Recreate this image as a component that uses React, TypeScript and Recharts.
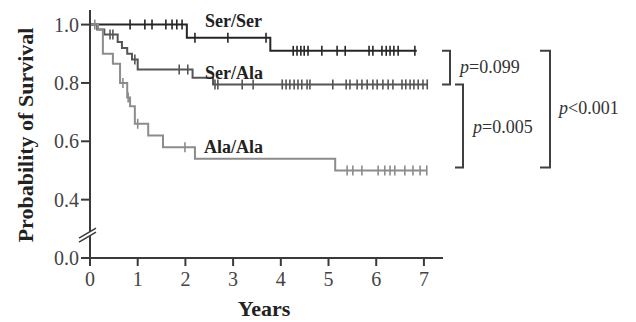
import { ComposedChart, Line, Scatter, XAxis, YAxis } from 'recharts';

// Kaplan-Meier steps (time in years, survival probability)
const serSerTimes = [0, 2.03, 3.78];
const serSerSurv = [1.0, 0.955, 0.91];
const serSerEnd = 6.85;
const serSerCensor = [0.84, 1.15, 1.3, 1.59, 1.72, 1.82, 1.93, 2.2, 2.89, 3.69, 4.26, 4.34, 4.42, 4.49, 4.57, 4.86, 5.18, 5.35, 5.85, 5.93, 6.12, 6.21, 6.29, 6.37, 6.46, 6.81];

const serAlaTimes = [0, 0.15, 0.3, 0.58, 0.67, 0.78, 0.88, 1.0, 2.15, 2.58];
const serAlaSurv = [1.0, 0.983, 0.966, 0.94, 0.92, 0.9, 0.88, 0.846, 0.818, 0.795];
const serAlaEnd = 7.07;
const serAlaCensor = [0.42, 0.48, 0.94, 1.87, 2.05, 2.62, 2.68, 3.19, 3.42, 4.03, 4.11, 4.19, 4.28, 4.36, 4.44, 4.55, 4.61, 5.09, 5.37, 5.45, 5.6, 5.7, 5.81, 5.93, 6.02, 6.14, 6.25, 6.35, 6.54, 6.62, 6.71, 6.79, 6.88, 6.98, 7.07];

const alaAlaTimes = [0, 0.17, 0.27, 0.48, 0.63, 0.78, 0.84, 0.94, 1.22, 1.53, 2.2, 5.14];
const alaAlaSurv = [1.0, 0.983, 0.9, 0.866, 0.8, 0.75, 0.72, 0.66, 0.62, 0.58, 0.54, 0.5];
const alaAlaEnd = 7.06;
const alaAlaCensor = [0.1, 0.69, 0.8, 1.0, 1.99, 5.39, 5.51, 5.7, 6.04, 6.18, 6.29, 6.39, 6.6, 6.77, 6.92, 7.06];

const xTicks = [0, 1, 2, 3, 4, 5, 6, 7];
const yTicks = [0.2, 0.4, 0.6, 0.8, 1.0];

const W = 636;
const H = 322;
const PLOT = { left: 90, top: 10, right: 443, bottom: 258 };
const X_DOMAIN: [number, number] = [0, 7.4];
const Y_DOMAIN: [number, number] = [0.2, 1.05];
const FONT = '"Liberation Serif", "Times New Roman", serif';
const AXIS = '#3a3a3a';

const sy = (v: number) =>
  PLOT.top + ((Y_DOMAIN[1] - v) / (Y_DOMAIN[1] - Y_DOMAIN[0])) * (PLOT.bottom - PLOT.top);

function steps(times: number[], surv: number[], end: number) {
  const pts = times.map((t, i) => ({ t, p: surv[i] }));
  pts.push({ t: end, p: surv[surv.length - 1] });
  return pts;
}

function survAt(times: number[], surv: number[], t: number) {
  let p = surv[0];
  times.forEach((s, i) => {
    if (s <= t) p = surv[i];
  });
  return p;
}

function censors(times: number[], surv: number[], cs: number[]) {
  return cs.map((t) => ({ t, p: survAt(times, surv, t) }));
}

const series = [
  { name: 'Ser/Ser', color: '#262626', pts: steps(serSerTimes, serSerSurv, serSerEnd), cens: censors(serSerTimes, serSerSurv, serSerCensor) },
  { name: 'Ser/Ala', color: '#555555', pts: steps(serAlaTimes, serAlaSurv, serAlaEnd), cens: censors(serAlaTimes, serAlaSurv, serAlaCensor) },
  { name: 'Ala/Ala', color: '#8c8c8c', pts: steps(alaAlaTimes, alaAlaSurv, alaAlaEnd), cens: censors(alaAlaTimes, alaAlaSurv, alaAlaCensor) },
];

const tickShape = (color: string) => (props: any) => {
  const { cx, cy } = props;
  return <line x1={cx} x2={cx} y1={cy - 5} y2={cy + 5} stroke={color} strokeWidth={1.6} />;
};

function Bracket({ x, y1, y2, arm }: { x: number; y1: number; y2: number; arm: number }) {
  return (
    <polyline
      points={`${x - arm},${y1} ${x},${y1} ${x},${y2} ${x - arm},${y2}`}
      fill="none"
      stroke="#404040"
      strokeWidth={2}
    />
  );
}

function PText({ x, y, op, val }: { x: number; y: number; op: string; val: string }) {
  return (
    <text x={x} y={y} fontFamily={FONT} fontSize={18} fill="#333">
      <tspan fontStyle="italic">p</tspan>
      {op + val}
    </text>
  );
}

export default function App() {
  const brk = sy(0.285);
  return (
    <div style={{ position: 'absolute', left: 0, top: 0, width: W, height: H, background: '#fff' }}>
      <ComposedChart
        width={W}
        height={H}
        margin={{ top: PLOT.top, right: W - PLOT.right, bottom: 0, left: 0 }}
      >
        <XAxis
          type="number"
          dataKey="t"
          domain={X_DOMAIN}
          ticks={xTicks}
          allowDataOverflow
          height={H - PLOT.bottom}
          tickSize={8}
          tickMargin={6}
          stroke={AXIS}
          strokeWidth={2}
          tick={{ fill: '#444', fontSize: 20, fontFamily: FONT }}
        />
        <YAxis
          type="number"
          domain={Y_DOMAIN}
          ticks={yTicks}
          allowDataOverflow
          width={PLOT.left}
          tickSize={9}
          tickMargin={2}
          stroke={AXIS}
          strokeWidth={2}
          tickFormatter={(v: number) => (v === 0.2 ? '0.0' : v.toFixed(1))}
          tick={{ fill: '#444', fontSize: 20, fontFamily: FONT }}
        />
        {series.map((s) => (
          <Line
            key={s.name}
            data={s.pts}
            dataKey="p"
            type="stepAfter"
            stroke={s.color}
            strokeWidth={2}
            dot={false}
            isAnimationActive={false}
          />
        ))}
        {series.map((s) => (
          <Scatter
            key={s.name + '-c'}
            data={s.cens}
            dataKey="p"
            shape={tickShape(s.color)}
            isAnimationActive={false}
          />
        ))}
      </ComposedChart>
      <svg
        width={W}
        height={H}
        style={{ position: 'absolute', left: 0, top: 0, pointerEvents: 'none' }}
      >
        {/* axis break */}
        <polygon points={`80,${brk + 5} 96,${brk - 5} 96,${brk - 1} 80,${brk + 9}`} fill="#fff" />
        <line x1={79} y1={brk + 5} x2={96} y2={brk - 5} stroke={AXIS} strokeWidth={1.5} />
        <line x1={79} y1={brk + 9} x2={96} y2={brk - 1} stroke={AXIS} strokeWidth={1.5} />

        <text
          x={25}
          y={135}
          transform="rotate(-90 25 135)"
          textAnchor="middle"
          dominantBaseline="central"
          fontFamily={FONT}
          fontWeight="bold"
          fontSize={22}
          fill="#222"
        >
          Probability of Survival
        </text>
        <text x={264} y={316} textAnchor="middle" fontFamily={FONT} fontWeight="bold" fontSize={22} fill="#222">
          Years
        </text>

        <text x={205} y={27} fontFamily={FONT} fontWeight="bold" fontSize={18} fill="#222">Ser/Ser</text>
        <text x={205} y={79} fontFamily={FONT} fontWeight="bold" fontSize={18} fill="#222">Ser/Ala</text>
        <text x={204} y={153} fontFamily={FONT} fontWeight="bold" fontSize={18} fill="#222">Ala/Ala</text>

        <Bracket x={450} y1={sy(0.91)} y2={sy(0.795)} arm={8} />
        <Bracket x={463} y1={sy(0.795)} y2={sy(0.51)} arm={8} />
        <Bracket x={550} y1={sy(0.91)} y2={sy(0.51)} arm={10} />
        <PText x={460} y={73} op="=" val="0.099" />
        <PText x={473} y={133} op="=" val="0.005" />
        <PText x={559} y={114} op="<" val="0.001" />
      </svg>
    </div>
  );
}
